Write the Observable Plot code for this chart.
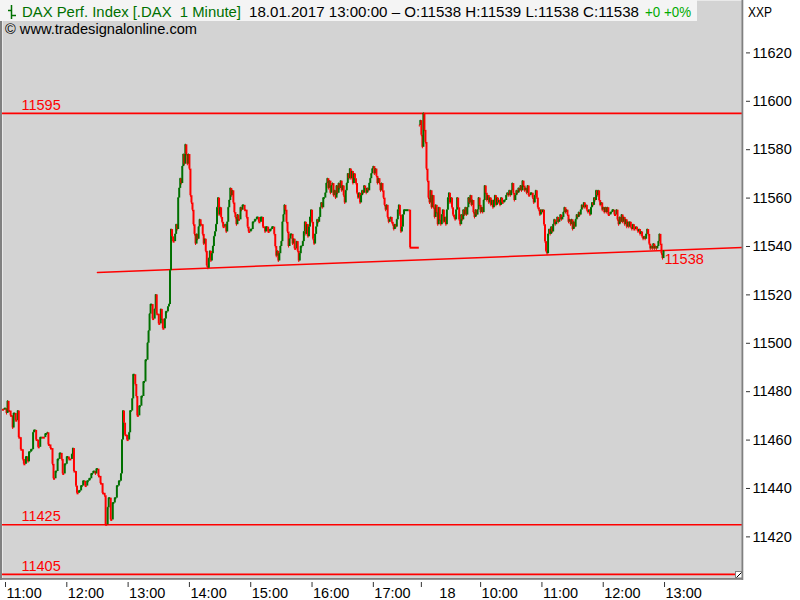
<!DOCTYPE html>
<html><head><meta charset="utf-8">
<script src="https://cdn.jsdelivr.net/npm/d3@7"></script>
<script src="https://cdn.jsdelivr.net/npm/@observablehq/plot@0.6"></script>
<style>
html,body{margin:0;padding:0;background:#fff;}
#wrap{position:relative;width:800px;height:600px;overflow:hidden;font-family:"Liberation Sans",Arial,sans-serif;}
#wrap svg{position:absolute;left:0;top:0;}
</style></head><body><div id="wrap"></div>
<script>
// ---- 17 Jan 2017: minutes after 11:00, 1-minute closes ----
const min17 = [-3,-1,1,2,3,5,7,8,10,12,13,15,17,18,20,22,23,25,27,28,30,32,34,36,39,41,42,44,46,47,49,51,53,55,56,58,60,62,
65,66,67,69,70,72,74,76,78,80,82,84,86,88,89,91,93,95,97,98,100,101,103,105,107,109,111,113,114,115,
116,117,119,121,122,124,125,127,128,129,131,133,135,137,139,140,141,142,144,146,147,148,150,152,153,154,156,157,159,160,
161,162,163,164,166,167,168,169,170,171,172,173,174,175,176,177,178,179,180,181,182,183,184,185,186,187,188,189,190,191,
193,194,195,196,197,198,199,200,201,202,203,204,205,206,207,208,209,210,211,212,213,215,216,217,218,219,220,221,222,223,
224,225,226,227,228,230,231,232,234,236,237,238,240,242,244,246,248,250,252,
254,255,257,259,261,263,264,265,266,267,268,269,270,271,272,273,274,275,276,277,278,279,281,282,283,285,286,287,288,289,
291,292,293,294,295,296,297,298,299,300,301,302,303,304,305,306,307,308,309,310,311,313,314,315,316,317,318,319,320,321,
322,323,324,325,326,327,328,329,330,331,332,333,334,335,336,337,338,339,340,341,342,343,344,345,346,347,348,349,350,351,
352,353,354,355,356,357,358,359,360,361,362,363,364,365,366,367,368,369,370,371,372,373,374,375,376,377,378,379,380,381,
382,383,384,385,386,387,388,389,390,395,396];
const close17 = [11472.5,11473,11471,11476,11472,11470,11465,11471,11468,11472,11461,11456,11452,11450,11453,11451,11455,11456,11463,11464,11460,11457,11461,11461,11462.5,11463,11458,11456.5,11450,11444,11447,11452,11454.5,11452,11446,11450,11453,11452,
11454,11456.5,11447,11441,11438,11439,11441,11443,11441,11443,11444,11446,11447,11446,11448,11445,11442,11438,11437,11425,11432,11436,11427,11434,11436,11441,11443,11446,11460,11472,
11467,11462,11460,11463,11472,11477,11487,11483,11478,11470,11474,11478,11484,11493,11500,11505,11512,11516,11510,11514,11520,11512,11508,11514,11510,11506,11510,11513,11515,11516,
11530,11547,11544,11542,11545,11549,11547,11560,11564,11568,11566,11573,11578,11574,11582,11578,11574,11578,11572,11561,11558,11555,11549,11545,11541,11545,11543,11548,11551,11549,
11545,11541,11543,11538,11532,11531,11535,11538,11534,11537,11540,11544,11546,11549,11556,11560,11553,11556,11552,11550,11548,11549,11546,11550,11556,11559,11564,11561,11563,11558,
11554,11552,11549,11553,11551,11556,11555,11557,11555,11552,11548,11546,11547,11550,11551,11552,11550,11552,11548,
11546,11548,11546,11547,11548,11545,11540,11536,11538,11534,11537,11540,11542,11550,11553,11557,11555,11550,11546,11540,11543,11545,11541,11543,11539,11542,11538,11534,11537,11540,
11542,11546,11550,11545,11549,11544,11548,11552,11555,11550,11543,11541,11545,11548,11551,11550,11552,11556,11558,11556,
11560,11562,11566,11568,11564,11567,11562,11565,11566,11561,11563,11560,11565,11562,11566,11564,11567,11563,11565,11561,11558,11563,11566,11570,11568,11572,11568,11571,11566,11570,
11568,11566,11562,11560,11562,11558,11561,11563,11562,11565,11564,11562,11564,11563,11566,11568,11570,11572,11573,11570,11572,11569,11566,11568,11566,11563,11566,11563,11560,11557,
11555,11557,11552,11550,11551,11552,11550,11549,11547,11549,11548,11551,11555,11557,11553,11546,11548,11553,11555,11555,11539.5];

// ---- 18 Jan 2017: minutes after 09:00, 1-minute closes ----
const min18 = [0,1,2,3,4,5,6,7,8,9,10,11,12,13,14,15,16,17,18,19,20,21,22,23,24,25,26,27,28,29,30,31,32,33,34,35,36,37,38,39,
40,41,42,43,44,45,46,47,48,49,50,51,52,53,54,55,56,57,58,59,60,61,62,63,64,65,66,67,68,69,70,71,72,73,74,75,76,77,78,79,80,
81,83,85,86,87,88,89,90,91,92,93,94,95,96,97,98,99,100,101,102,103,104,105,106,107,109,
111,112,113,114,115,116,117,118,119,120,121,122,123,124,125,126,127,128,129,130,131,132,133,134,135,136,137,138,139,140,
141,142,143,144,145,146,147,148,149,150,151,152,153,154,155,156,157,158,159,160,161,162,163,164,165,166,167,168,169,170,
171,172,173,174,175,176,177,178,179,180,181,182,183,184,185,187,189,191,
193,194,195,196,197,198,199,200,201,202,203,204,205,206,207,208,209,210,
212,213,214,215,216,217,218,219,220,221,222,223,224,225,226,227,228,229,230,231,232,233,234,235,236,237,238,239];
const close18 = [11590,11592,11586,11581,11595,11588,11583,11572,11567,11560,
11558,11563,11556,11561,11556,11552,11557,11554,11549,11556,
11551,11549,11553,11555,11550,11552,11549,11555,11560,11562,
11558,11560,11556,11553,11552,11551,11555,11560,11556,11551,
11549,11553,11551,11555,11553,11556,11553,11556,11560,11558,
11561,11557,11559,11554,11552,11555,11553,11555,11560,11557,
11554,11556,11554,11559,11565,11562,11559,11561,11558,11560,
11557,11559,11556,11559,11561,11557,11560,11558,11559,11557,
11560,
11558,11559,11561,
11562,11561,11563,11561,11563,11566,11562,11559,11561,11563,
11562,11564,11563,11565,11563,11567,11565,11563,11564,11562,
11565,11561,11562,
11560,11558,11561,11563,11560,11556,11555,11553,11555,11554,
11555,11549,11542,11538,11537,11545,
11547,11545,11548,11546,11549,11551,11549,11550,11552,11550,
11551,11553,11551,11552,11554,11556,11554,11555,11553,11550,
11551,11549,11551,11547,11550,11548,11551,11553,11552,11554,
11553,11555,11557,11556,11558,11556,11557,11555,11554,11555,
11553,11556,11558,11557,11560,11559,
11563,11561,11563,11559,11557,11558,11555,11556,11554,11556,
11554,11556,11553,11554,11555,11553,
11555,11551,11549,11552,11550,11553,11550,11552,11549,11551,11548,
11550,11548,11550,11548,11547,11549,11547,
11548,11547,11546,11547,11545,11546,11544,
11543,11544,11543,11545,11547,11545,11541,11539,11540,11539,
11541,11539,11540,11539,11540,11542,11545,11541,11537,11535,11538];

const levels = [11595, 11425, 11404.5];
const trendTimes = ["17 12:30", "18 14:16"];
const trendValues = [11529.3, 11539.6];
const yTicks = [11420, 11440, 11460, 11480, 11500, 11520, 11540, 11560, 11580, 11600, 11620];
const xTickTimes = ["17 11:00","17 12:00","17 13:00","17 14:00","17 15:00","17 16:00","17 17:00","18 10:00","18 11:00","18 12:00","18 13:00"];
const xTickLabels = ["11:00","12:00","13:00","14:00","15:00","16:00","17:00","10:00","11:00","12:00","13:00"];
const dayBreakTime = "18 09:02";
const dayBreakLabel = "18";

// session time: minutes after 17 Jan 11:00, day 1 ends 17:45, day 2 starts 09:00
const DAY2 = 405;
function sess(s){ const [d, hm] = s.split(" "); const [h, m] = hm.split(":").map(Number); const mod = h*60+m; return d === "17" ? mod - 660 : DAY2 + mod - 540; }

const green = "#007000", red = "#ff0000";
function buildDay(mins, closes, offset, endT){
  return mins.map((m, i) => {
    const prev = i ? closes[i-1] : closes[i];
    const c = closes[i];
    return {t: offset + m, close: c, prev, tNext: i < mins.length-1 ? offset + mins[i+1] : endT,
            color: c > prev ? green : red};
  });
}
const bars = buildDay(min17, close17, 0, DAY2).concat(
  buildDay(min18, close18, DAY2, DAY2 + min18[min18.length-1] + 1));
const last = bars[bars.length-1];
const trend = trendTimes.map((s, i) => ({t: sess(s), v: trendValues[i]}));
const xt = xTickTimes.map(sess);
const labelOf = new Map(xt.map((t, i) => [t, xTickLabels[i]]));

const chart = Plot.plot({
  width: 800, height: 600,
  marginLeft: 2, marginRight: 58, marginTop: 0, marginBottom: 22,
  x: {domain: [-2.94, 721.3], axis: null},
  y: {domain: [11402.8, 11641.65], axis: null},
  color: {type: "identity"},
  style: {fontFamily: "'Liberation Sans', Arial, sans-serif", fontSize: "14px", background: "#fff", overflow: "hidden"},
  marks: [
    Plot.frame({fill: "#d3d3d3", stroke: "none"}),
    Plot.ruleY(levels, {y: d => d, stroke: red, strokeWidth: 1.6}),
    Plot.text(levels, {y: d => d, frameAnchor: "left", dx: 19, dy: -8, text: d => String(Math.round(d)), fill: red, textAnchor: "start", fontSize: 14.5}),
    Plot.line(trend, {x: "t", y: "v", stroke: red, strokeWidth: 1.5, clip: true}),
    Plot.ruleY(bars, {y: "close", x1: "t", x2: "tNext", stroke: "color", strokeWidth: 2, clip: true}),
    Plot.ruleX(bars, {x: "t", y1: "prev", y2: "close", stroke: "color", strokeWidth: 2, clip: true}),
    Plot.text([last], {x: "t", y: "close", text: d => String(d.close), dx: 1, dy: 8, textAnchor: "start", fill: red, fontSize: 14.5}),
    Plot.axisY({anchor: "right", ticks: yTicks, tickSize: 4, tickPadding: 3, dx: 3, fontSize: 14.5, label: null, tickFormat: d => String(d), stroke: "#333"}),
    Plot.axisX({anchor: "bottom", ticks: xt.concat([sess(dayBreakTime)]), tickSize: 5, dy: 4, fill: "none", label: null, tickFormat: () => "", stroke: "#333"}),
    Plot.axisX({anchor: "bottom", ticks: xt, tickSize: 0, tickPadding: 9, textAnchor: "start", dx: 1, fontSize: 14.5, label: null, tickFormat: d => labelOf.get(d), fill: "#000"}),
    Plot.text([dayBreakLabel], {x: () => sess(dayBreakTime), frameAnchor: "bottom", lineAnchor: "top", textAnchor: "start", dy: 9, dx: 18, text: d => d, fontSize: 14.5, fill: "#000"})
  ]
});
document.getElementById("wrap").appendChild(chart);

// overlay: borders, header, tags
const NS = "http://www.w3.org/2000/svg";
const ov = document.createElementNS(NS, "svg");
ov.setAttribute("width", 800); ov.setAttribute("height", 600);
ov.innerHTML = `
 <rect x="0" y="0" width="2" height="580" fill="#808080"/>
 <rect x="741.5" y="0" width="1.8" height="580" fill="#808080"/>
 <rect x="0" y="578" width="743" height="1.8" fill="#808080"/>
 <rect x="735.5" y="571.5" width="6.5" height="6.5" fill="#fff" stroke="#808080" stroke-width="1"/>
 <line x1="736.5" y1="577.5" x2="741.5" y2="572.5" stroke="#000" stroke-width="1"/>
 <rect x="0" y="0" width="697" height="21" fill="#f4f4f4"/>
 <g stroke="#007000" stroke-width="1.5" fill="none">
   <line x1="11.5" y1="5" x2="11.5" y2="19"/>
   <line x1="8" y1="10.5" x2="11.5" y2="10.5"/>
   <line x1="11.5" y1="15.5" x2="16" y2="15.5"/>
 </g>
 <g font-family="'Liberation Sans', Arial, sans-serif" font-size="15.5">
   <text x="22" y="17" fill="#007000" textLength="219" lengthAdjust="spacingAndGlyphs">DAX Perf. Index [.DAX\u00a0 1 Minute]</text>
   <text x="249" y="17" fill="#000" textLength="390" lengthAdjust="spacingAndGlyphs">18.01.2017 13:00:00 – O:11538 H:11539 L:11538 C:11538</text>
   <text x="645" y="17" fill="#00aa00" textLength="46" lengthAdjust="spacingAndGlyphs">+0 +0%</text>
   <text x="5" y="34" fill="#000" textLength="192" lengthAdjust="spacingAndGlyphs">© www.tradesignalonline.com</text>
   <text x="748" y="17" fill="#000" font-size="14.5" textLength="24" lengthAdjust="spacingAndGlyphs">XXP</text>
 </g>`;
document.getElementById("wrap").appendChild(ov);
</script>
</body></html>
